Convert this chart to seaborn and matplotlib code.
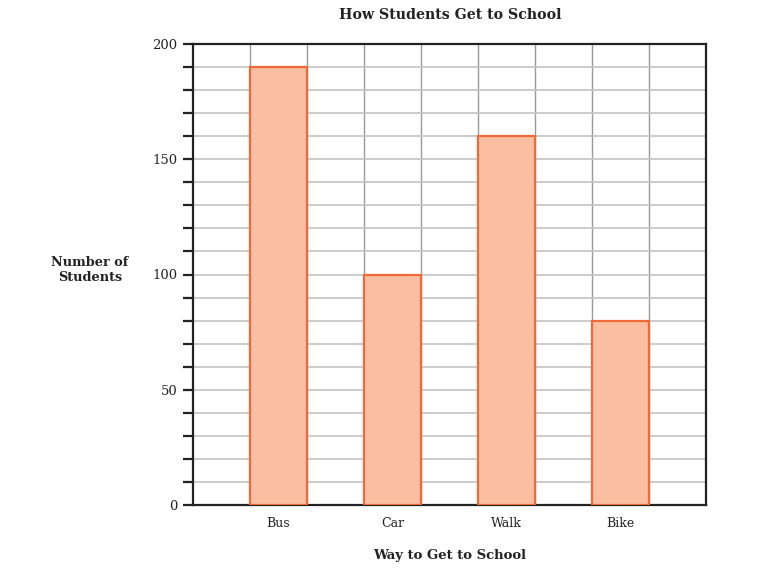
import matplotlib
matplotlib.use("Agg")
import matplotlib.pyplot as plt
import seaborn as sns
import numpy as np
import pandas as pd
from matplotlib.ticker import MultipleLocator, FixedLocator

categories = ["Bus", "Car", "Walk", "Bike"]
values = [190, 100, 160, 80]
yticks = [0, 50, 100, 150, 200]

sns.set_theme(style="white")
plt.rcParams['font.family'] = ['DejaVu Serif']

df = pd.DataFrame({"way": categories, "count": values})

fig = plt.figure(figsize=(7.67, 5.78), dpi=100)
ax = fig.add_axes([193/767, 1-505/578, (706-193)/767, (505-44)/578])

sns.barplot(data=df, x="way", y="count", order=categories, ax=ax,
            color="#F9BFA0", edgecolor="#EE6A3A", linewidth=1.6,
            width=0.5, saturation=1, zorder=3)

ax.set_xlim(-0.75, 3.75)
ax.set_ylim(0, 200)
ax.yaxis.set_major_locator(FixedLocator(yticks))
ax.yaxis.set_minor_locator(MultipleLocator(10))
ax.xaxis.set_minor_locator(FixedLocator(np.arange(-0.25, 3.5, 0.5)))
ax.grid(False)
ax.grid(which="both", axis="y", color="#c4c4c4", linewidth=1.2, zorder=0)
ax.grid(which="minor", axis="x", color="#9a9a9a", linewidth=1.0, zorder=0)
ax.set_axisbelow(True)

for s in ax.spines.values():
    s.set_visible(True)
    s.set_color("#222222")
    s.set_linewidth(1.6)

ax.tick_params(axis="y", which="both", length=7.2, width=1.6, color="#222222",
               left=True, labelsize=9.5, pad=4)
ax.tick_params(axis="x", which="both", length=0, labelsize=9, pad=8.5)
ax.set_xlabel("")
ax.set_ylabel("")
for lab in ax.get_yticklabels() + ax.get_xticklabels():
    lab.set_color("#222222")

fig.text(450/767, 1-15/578, "How Students Get to School", ha="center", va="center",
         fontsize=10.2, fontweight="bold", color="#222222")
fig.text(450/767, 1-556/578, "Way to Get to School", ha="center", va="center",
         fontsize=9.5, fontweight="bold", color="#222222")
fig.text(90/767, 1-270/578, "Number of\nStudents", ha="center", va="center",
         fontsize=9.3, fontweight="bold", color="#222222", linespacing=1.15)

fig.savefig("out.png", dpi=100, facecolor="white")
